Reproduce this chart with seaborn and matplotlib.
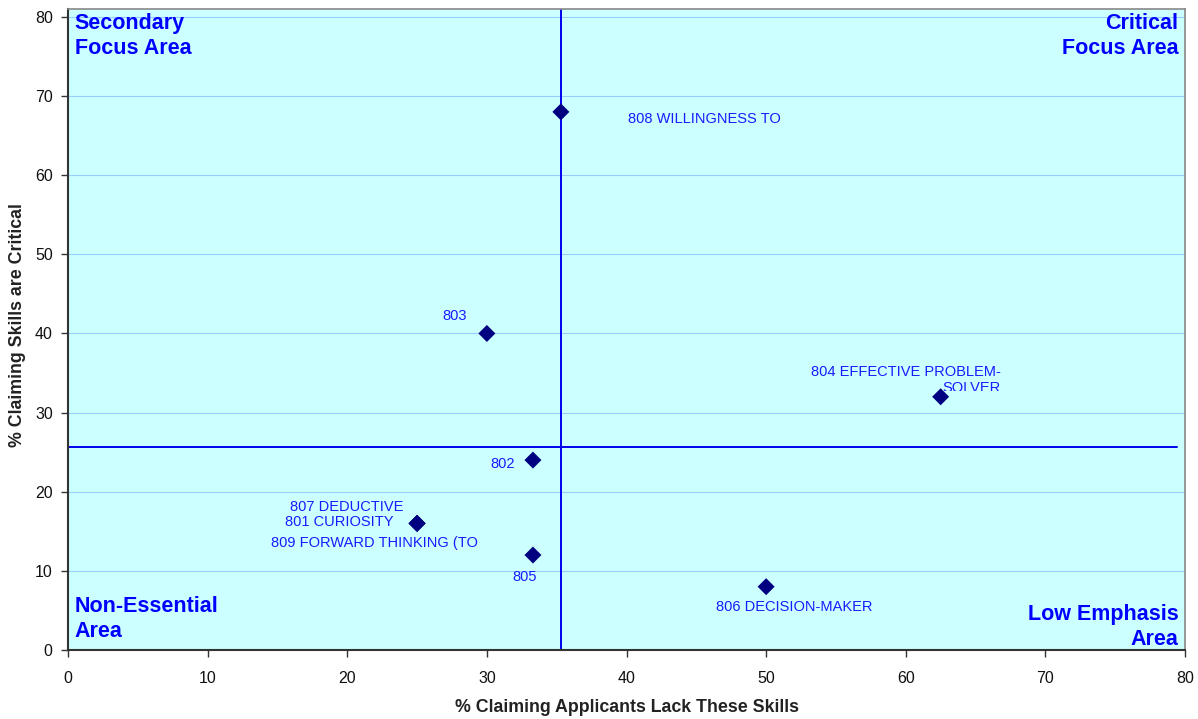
import matplotlib
matplotlib.use("Agg")
import matplotlib.pyplot as plt
import seaborn as sns
import pandas as pd
from matplotlib.transforms import Bbox, TransformedBbox

# ---- data ----
codes = ["808", "803", "804", "802", "807", "801", "809", "805", "806"]
names = ["808 WILLINGNESS TO", "803", "804 EFFECTIVE PROBLEM-\nSOLVER", "802",
         "807 DEDUCTIVE", "801 CURIOSITY", "809 FORWARD THINKING (TO", "805",
         "806 DECISION-MAKER"]
lack_pct = [35.3, 30.0, 62.5, 33.3, 25.0, 25.0, 25.0, 33.3, 50.0]
critical_pct = [68, 40, 32, 24, 16, 16, 16, 12, 8]
ref_x = 35.3   # vertical reference line
ref_y = 25.7   # horizontal reference line

df = pd.DataFrame({"code": codes, "name": names, "lack": lack_pct, "crit": critical_pct})

sns.set_theme(style="white")
plt.rcParams["font.family"] = ["Liberation Sans", "DejaVu Sans"]

fig = plt.figure(figsize=(11.98, 7.19), dpi=100)
ax = fig.add_axes([68/1198, (719-650)/719, (1185-68)/1198, (650-9)/719])
ax.set_facecolor("#CCFFFF")

ax.set_xlim(0, 80)
ax.set_ylim(0, 81)
ax.set_xticks(range(0, 81, 10))
ax.set_yticks(range(0, 81, 10))
ax.yaxis.grid(True, color="#99CCFF", linewidth=0.8)
ax.set_axisbelow(True)

# reference lines
ax.plot([ref_x, ref_x], [0, 81], color="#0000EE", linewidth=1.4, zorder=2)
ax.plot([0, 79.4], [ref_y, ref_y], color="#0000EE", linewidth=1.4, zorder=2)

sns.scatterplot(data=df, x="lack", y="crit", marker="D", s=75, color="#000080",
                edgecolor="none", ax=ax, zorder=3, legend=False)

lab_col = "#1A1AFF"
fs = 10.5
# label placements (text position, alignment)
place = {
    "808": (40.1, 67.1, "left", "center"),
    "803": (28.6, 42.2, "right", "center"),
    "802": (32.0, 23.5, "right", "center"),
    "807": (24.0, 18.1, "right", "center"),
    "801": (23.3, 16.2, "right", "center"),
    "809": (21.95, 13.5, "center", "center"),
    "805": (32.7, 9.2, "center", "center"),
    "806": (52.0, 5.4, "center", "center"),
}
for c, n in zip(codes, names):
    if c in place:
        x, y, ha, va = place[c]
        ax.text(x, y, n, color=lab_col, fontsize=fs, ha=ha, va=va, zorder=4)

# 804 label, second line clipped like the original
t = ax.text(66.8, 36.0, names[2], color=lab_col, fontsize=fs, ha="right", va="top",
            multialignment="right", linespacing=1.2, zorder=4)
clip = TransformedBbox(Bbox([[40, 32.75], [80, 81]]), ax.transData)
t.set_clip_box(clip)
t.set_clip_on(True)

# quadrant labels
qkw = dict(color="#0000FF", fontsize=15.5, fontweight="bold", linespacing=1.25,
           transform=ax.transAxes)
ax.text(0.006, 0.993, "Secondary\nFocus Area", ha="left", va="top", **qkw)
ax.text(0.994, 0.993, "Critical\nFocus Area", ha="right", va="top",
        multialignment="right", **qkw)
ax.text(0.006, 0.012, "Non-Essential\nArea", ha="left", va="bottom", **qkw)
ax.text(0.994, 0.0, "Low Emphasis\nArea", ha="right", va="bottom",
        multialignment="right", **qkw)

ax.set_xlabel("% Claiming Applicants Lack These Skills", fontsize=12.8,
              fontweight="bold", color="#222222")
ax.set_ylabel("% Claiming Skills are Critical", fontsize=12.8,
              fontweight="bold", color="#222222")
ax.xaxis.set_label_coords((627 - 68) / 1117, (650 - 707) / 641)
ax.xaxis.label.set_va("center")
ax.yaxis.set_label_coords((18 - 68) / 1117, (650 - 325) / 641)
ax.yaxis.label.set_va("center")

ax.tick_params(axis="both", which="both", direction="out", length=5, width=1,
               color="#333333", labelsize=11.5, labelcolor="#111111",
               bottom=True, left=True)
ax.tick_params(axis="x", pad=10)
ax.tick_params(axis="y", pad=6)

for side in ["left", "bottom"]:
    ax.spines[side].set_color("#333333")
    ax.spines[side].set_linewidth(1.5)
for side in ["top", "right"]:
    ax.spines[side].set_color("#888888")
    ax.spines[side].set_linewidth(1.2)

fig.savefig("out.png", dpi=100, facecolor="white")
